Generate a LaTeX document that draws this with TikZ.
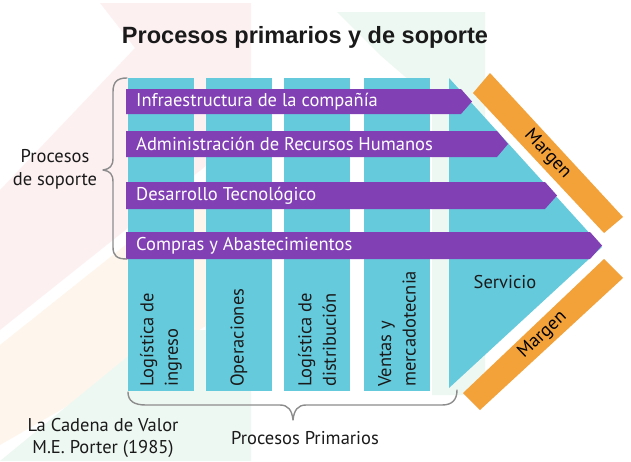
\documentclass[tikz,border=0pt]{standalone}
\usepackage{fontspec}
\setmainfont{PT Sans}
\newfontfamily\titlefont{Liberation Sans}
\definecolor{cyanc}{HTML}{66CADD}
\definecolor{purp}{HTML}{8140B4}
\definecolor{orng}{HTML}{F3A23A}
\definecolor{bracec}{HTML}{8C8C8C}
\definecolor{bgpink}{HTML}{FDF0F1}
\definecolor{bgpeach}{HTML}{FEF5EC}
\definecolor{bggreen}{HTML}{EEF8F2}
\definecolor{txt}{HTML}{1A1A1A}
\tikzset{
  bartext/.style={anchor=west, inner sep=0pt, text=white, font=\fontsize{18.5}{20}\selectfont},
  coltext/.style={rotate=90, anchor=west, inner sep=0pt, align=left, text=txt, font=\fontsize{18.5}{24.5}\selectfont},
  lbl/.style={inner sep=0pt, align=center, text=txt, font=\fontsize{18.5}{22.5}\selectfont},
  bracepath/.style={draw=bracec, line width=1.4pt, line cap=round, line join=round},
}
\begin{document}
\begin{tikzpicture}[x=1pt,y=-1pt]
\useasboundingbox (0,0) rectangle (631,461);
\fill[white] (0,0) rectangle (631,461);
% faint background chevrons
\fill[bgpink] (100,3) -- (251,3) -- (251,130) -- (0,330) -- (0,190) -- (135,48) -- cycle;
\fill[bgpeach] (0,345) -- (251,145) -- (251,300) -- (0,445) -- cycle;
\fill[bggreen] (0,461) -- (160,330) -- (251,330) -- (251,461) -- cycle;
\fill[bggreen] (337,12) -- (485,12) -- (485,395) -- (432,395) -- (432,100) -- (380,55) -- cycle;
% title
\node[inner sep=0pt, text=txt] (title) at (305,37) {\resizebox{366pt}{!}{\titlefont\bfseries Procesos primarios y de soporte}};
% columns
\fill[cyanc] (128,78) rectangle (194,391);
\fill[cyanc] (206,78) rectangle (272,391);
\fill[cyanc] (284,78) rectangle (350,391);
\fill[cyanc] (364,78) rectangle (430,391);
\fill[cyanc] (449,78) -- (602,247) -- (449,388) -- cycle;
% purple bars
\fill[purp] (126,89) -- (461,89) -- (472,101.5) -- (461,114) -- (126,114) -- cycle;
\fill[purp] (126,131) -- (497,131) -- (508,144) -- (497,157) -- (126,157) -- cycle;
\fill[purp] (126,182) -- (545,182) -- (557,195.5) -- (545,209) -- (126,209) -- cycle;
\fill[purp] (126,232) -- (590,232) -- (602,245.5) -- (590,259) -- (126,259) -- cycle;
\node[bartext] (b1) at (136,101.5) {Infraestructura de la compañía};
\node[bartext] (b2) at (136,144) {Administración de Recursos Humanos};
\node[bartext] (b3) at (136,195.5) {Desarrollo Tecnológico};
\node[bartext] (b4) at (136,245.5) {Compras y Abastecimientos};
% column texts
\node[coltext] (c1) at (161,387) {Logística de\\ingreso};
\node[coltext] (c2) at (239,387) {Operaciones};
\node[coltext] (c3) at (317,387) {Logística de\\distribución};
\node[coltext] (c4) at (397,387) {Ventas y\\mercadotecnia};
\node[lbl] (serv) at (505,282) {Servicio};
% orange margins
\fill[orng] (490,73) -- (623,217) -- (604,233) -- (473,93) -- cycle;
\fill[orng] (604,259) -- (623,278) -- (480,410) -- (463,393) -- cycle;
\node[lbl, text=black, rotate=-47] (m1) at (547.5,154) {Margen};
\node[lbl, text=black, rotate=43.5] (m2) at (542.5,335) {Margen};
% braces
\draw[bracepath] (127,78) .. controls (117,78) and (113,82) .. (113,92) -- (113,158) .. controls (113,166) and (110,169) .. (103,170) .. controls (110,171) and (113,174) .. (113,182) -- (113,247) .. controls (113,256) and (117,259) .. (127,259);
\draw[bracepath] (128,392) .. controls (128,401) and (134,405) .. (146,405) -- (280,405) .. controls (288,405) and (292,410) .. (293,420) .. controls (294,410) and (298,405) .. (306,405) -- (442,405) .. controls (452,405) and (457,400) .. (457,390);
% labels
\node[lbl] (sop) at (55,169.5) {Procesos\\de soporte};
\node[lbl] (prim) at (305,438) {Procesos Primarios};
\node[lbl] (cad) at (103,438) {La Cadena de Valor\\M.E. Porter (1985)};
\end{tikzpicture}
\end{document}
